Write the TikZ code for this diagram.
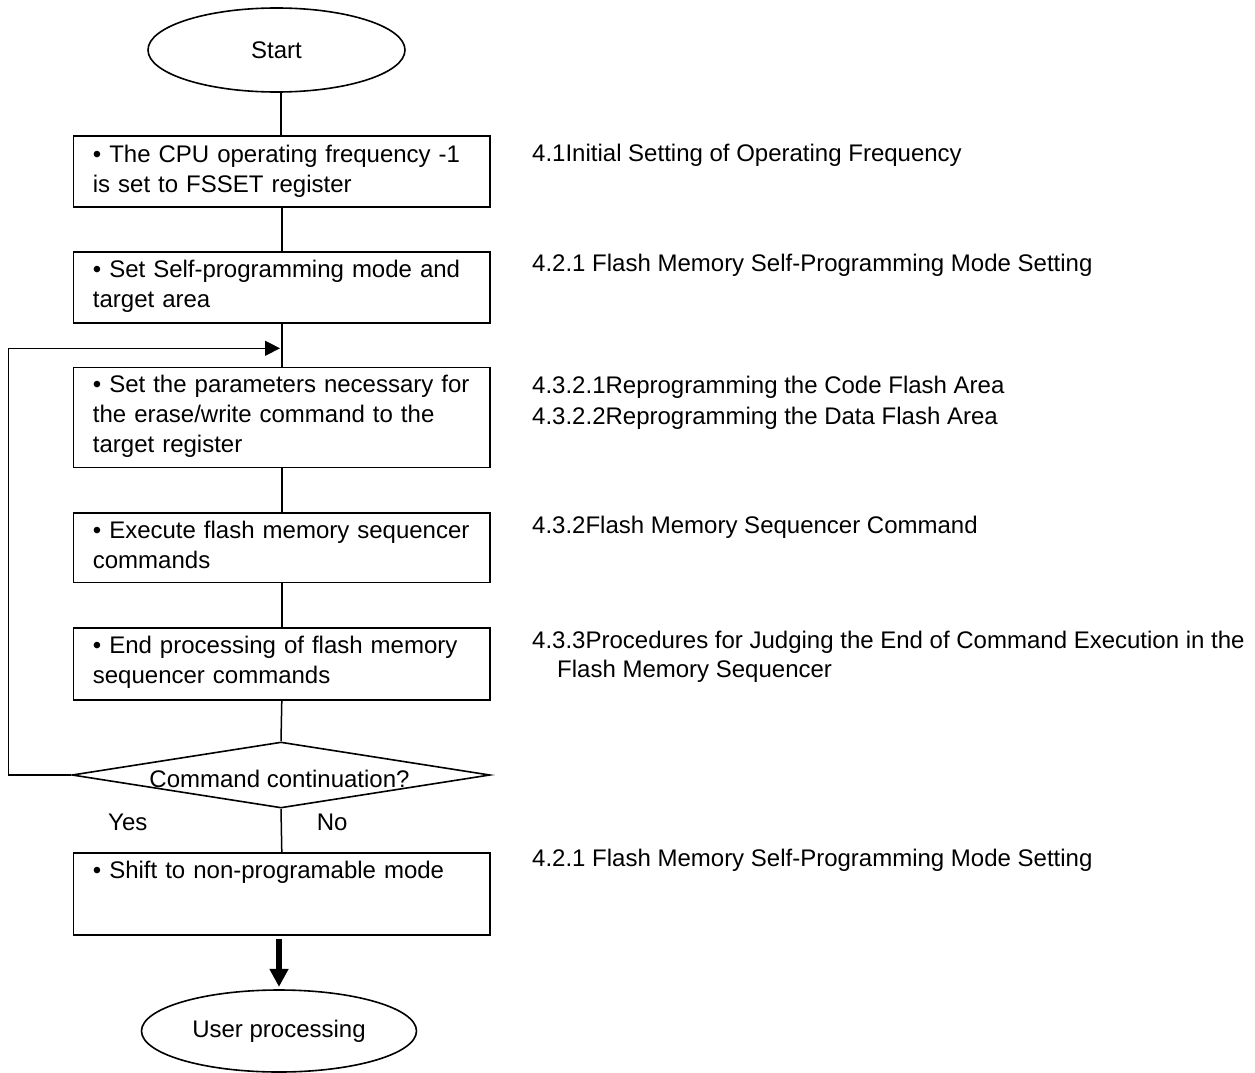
\documentclass[tikz,border=0pt]{standalone}
\usepackage{fontspec}
\setmainfont{Liberation Sans}
\usetikzlibrary{shapes.geometric,arrows.meta,calc}
\begin{document}
\begin{tikzpicture}[x=1pt,y=-1pt,
  every node/.style={font=\fontsize{24}{30}\selectfont, inner sep=0pt},
  box/.style={draw, line width=1.6pt, minimum width=416.6pt, anchor=north west},
  term/.style={draw, ellipse, line width=1.6pt},
  txt/.style={anchor=base west, text width=395pt, align=left},
  ref/.style={anchor=base west},
  conn/.style={line width=1.5pt},
  loopline/.style={line width=1.3pt}
]
\useasboundingbox (0,0) rectangle (1255,1073);

% terminals
\node[term, minimum width=257pt, minimum height=84pt] (start) at (276.5,50) {Start};
\node[term, minimum width=275pt, minimum height=82pt] (stop) at (279,1031) {User processing};

% boxes
\node[box, minimum height=71pt] (b1) at (72.7,135) {};
\node[box, minimum height=71pt] (b2) at (72.7,251) {};
\node[box, minimum height=100pt] (b3) at (72.7,366.7) {};
\node[box, minimum height=69.4pt] (b4) at (72.7,512.3) {};
\node[box, minimum height=71.7pt] (b5) at (72.7,627.3) {};
\node[box, minimum height=82pt] (b6) at (72.7,852) {};

% box texts
\node[txt] (t1) at (92.7,162) {• The CPU operating frequency -1\\is set to FSSET register};
\node[txt] (t2) at (92.7,277) {• Set Self-programming mode and\\target area};
\node[txt] (t3) at (92.7,392.7) {• Set the parameters necessary for\\the erase/write command to the\\target register};
\node[txt] (t4) at (92.7,538.3) {• Execute flash memory sequencer\\commands};
\node[txt] (t5) at (92.7,653.3) {• End processing of flash memory\\sequencer commands};
\node[txt] (t6) at (92.7,878.3) {• Shift to non-programable mode};

% decision
\node[draw, diamond, line width=1.6pt, minimum width=418pt, minimum height=66pt] (dec) at (281,775) {};
\node[anchor=base] (dect) at (279.5,787.3) {Command continuation?};
\node[ref] (yes) at (108,830) {Yes};
\node[ref] (no) at (316.7,830) {No};

% references
\node[ref] (r1) at (532,161.7) {4.1Initial Setting of Operating Frequency};
\node[ref] (r2) at (532,271.7) {4.2.1 Flash Memory Self-Programming Mode Setting};
\node[ref] (r3) at (532,393.3) {4.3.2.1Reprogramming the Code Flash Area};
\node[ref] (r4) at (532,424) {4.3.2.2Reprogramming the Data Flash Area};
\node[ref] (r5) at (532,533.3) {4.3.2Flash Memory Sequencer Command};
\node[ref] (r6) at (532,648.3) {4.3.3Procedures for Judging the End of Command Execution in the};
\node[ref] (r6b) at (557,677) {Flash Memory Sequencer};
\node[ref] (r7) at (532,866.7) {4.2.1 Flash Memory Self-Programming Mode Setting};

% connectors
\draw[conn] (b1.north -| 281,0) -- (start.south -| 281,0);
\draw[conn] (b1.south) -- (b2.north);
\draw[conn] (b2.south) -- (b3.north);
\draw[conn] (b3.south) -- (b4.north);
\draw[conn] (b4.south) -- (b5.north);
\draw[conn] (b5.south) -- (dec.north);
\draw[conn] (dec.south) -- (b6.north);
\coordinate (loopin) at (280,348.3);
\draw[loopline, -{Triangle[length=15pt,width=15pt]}] (dec.west) -- (8.5,775) |- (loopin);
\draw[line width=6pt, -{Triangle[length=18pt,width=18pt]}] ([yshift=-3.7pt]b6.south -| stop.north) -- ([yshift=2.3pt]stop.north);
\end{tikzpicture}
\end{document}
